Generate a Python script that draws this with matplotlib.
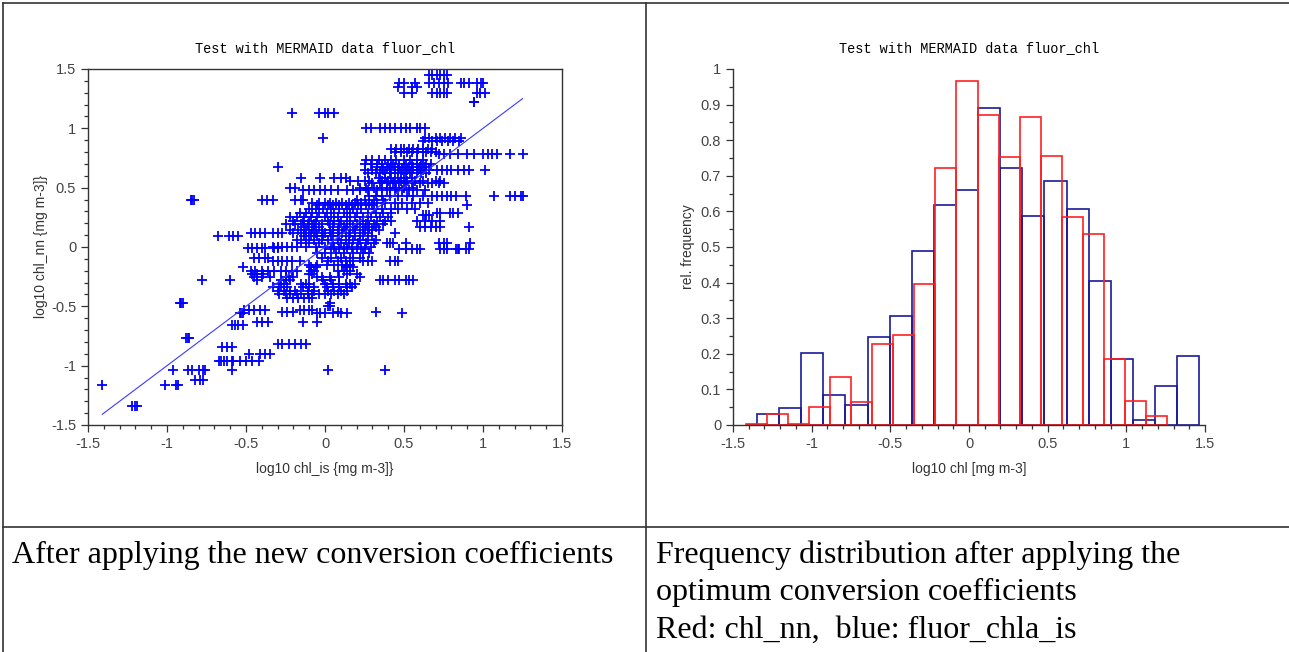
import numpy as np
import matplotlib
matplotlib.use("Agg")
from matplotlib import pyplot as plt
from matplotlib.lines import Line2D
from matplotlib.ticker import MultipleLocator, FormatStrFormatter

plt.rcParams['axes.unicode_minus'] = False

# scatter: rows of chl_nn value -> chl_is values
scatter_rows = [
    (1.45, [0.66, 0.68, 0.71, 0.73, 0.75, 0.77]),
    (1.38, [0.47, 0.50, 0.57, 0.66, 0.69, 0.72, 0.75, 0.78, 0.86, 0.88, 0.91, 0.96, 0.99, 1.00]),
    (1.35, [0.46, 0.55, 0.58]),
    (1.30, [0.50, 0.55, 0.68, 0.71, 0.73, 0.75, 0.77, 0.96, 0.98, 1.01]),
    (1.22, [0.94, 0.945]),
    (1.13, [-0.21, -0.04, 0.00, 0.02, 0.06]),
    (1.00, [0.26, 0.29, 0.35, 0.38, 0.41, 0.44, 0.48, 0.51, 0.54, 0.58, 0.60, 0.63]),
    (0.92, [-0.01, 0.63, 0.66, 0.70, 0.73, 0.76, 0.79, 0.82, 0.86]),
    (0.89, [0.62, 0.68, 0.71, 0.74, 0.78, 0.81, 0.85]),
    (0.83, [0.42, 0.45, 0.48, 0.50, 0.53, 0.56, 0.59, 0.62, 0.65, 0.68]),
    (0.80, [0.44, 0.48, 0.52, 0.55, 0.58, 0.62, 0.64, 0.67, 0.70]),
    (0.78, [0.72, 0.75, 0.79, 0.84, 0.90, 0.94, 1.00, 1.03, 1.06, 1.09, 1.17, 1.25]),
    (0.73, [0.26, 0.30, 0.34, 0.38, 0.42, 0.45, 0.50, 0.54, 0.58, 0.62]),
    (0.70, [0.25, 0.29, 0.33, 0.36, 0.40, 0.43, 0.47, 0.51, 0.55, 0.58, 0.61, 0.64, 0.67]),
    (0.67, [-0.30, 0.33, 0.36, 0.39, 0.42, 0.44, 0.47, 0.50, 0.53, 0.56, 0.60, 0.63]),
    (0.65, [0.25, 0.30, 0.37, 0.41, 0.46, 0.49, 0.52, 0.55, 0.59, 0.62, 0.66, 0.71, 0.74,
            0.77, 0.80, 0.84, 0.88, 0.91, 1.01]),
    (0.62, [0.27, 0.32, 0.35, 0.38, 0.41, 0.44, 0.48, 0.51, 0.54, 0.58, 0.61, 0.64]),
    (0.58, [-0.15, -0.03, 0.06, 0.10, 0.13, 0.34, 0.38, 0.42, 0.46, 0.50, 0.55]),
    (0.56, [0.16, 0.21, 0.25, 0.28, 0.36, 0.40, 0.44, 0.48, 0.52, 0.57, 0.62, 0.70, 0.73]),
    (0.54, [0.30, 0.35, 0.39, 0.43, 0.47, 0.51, 0.55, 0.60, 0.65, 0.68, 0.72, 0.75]),
    (0.50, [-0.22, -0.19, 0.22, 0.26, 0.31, 0.36, 0.41, 0.45, 0.50, 0.56]),
    (0.48, [-0.14, -0.10, -0.07, -0.03, 0.00, 0.04, 0.08, 0.14, 0.18, 0.22, 0.27, 0.33,
            0.39, 0.44, 0.49, 0.53, 0.58, 0.63]),
    (0.43, [0.28, 0.32, 0.36, 0.41, 0.46, 0.52, 0.56, 0.62, 0.68, 0.71, 0.74, 0.77, 0.80,
            0.83, 0.89, 1.07, 1.17, 1.20, 1.24, 1.25]),
    (0.40, [-0.85, -0.84, -0.83, -0.40, -0.37, -0.33, -0.19, -0.15, -0.14, 0.20, 0.25, 0.31, 0.37]),
    (0.37, [-0.08, -0.04, 0.00, 0.03, 0.07, 0.11, 0.15, 0.19, 0.23, 0.28, 0.33, 0.38, 0.44,
            0.49, 0.55, 0.60, 0.65]),
    (0.35, [-0.05, 0.02, 0.05, 0.09, 0.13, 0.17, 0.21, 0.26, 0.30, 0.90]),
    (0.32, [-0.10, -0.06, -0.01, 0.04, 0.09, 0.14, 0.18, 0.23, 0.31, 0.36, 0.42, 0.46, 0.52, 0.57]),
    (0.29, [-0.16, -0.12, -0.08, -0.04, 0.01, 0.06, 0.12, 0.16, 0.20, 0.27, 0.32, 0.37, 0.42,
            0.71, 0.73, 0.79, 0.81, 0.84]),
    (0.27, [0.62, 0.64, 0.66]),
    (0.25, [-0.22, -0.18, -0.13, -0.09, -0.05, 0.00, 0.04, 0.08, 0.14, 0.19, 0.24, 0.29, 0.35, 0.40]),
    (0.22, [-0.20, -0.14, -0.10, -0.06, 0.02, 0.06, 0.10, 0.16, 0.22, 0.27, 0.33, 0.38, 0.42,
            0.58, 0.63, 0.68, 0.73]),
    (0.19, [-0.25, -0.19, -0.15, -0.11, -0.07, -0.02, 0.03, 0.09, 0.14, 0.20, 0.26, 0.31, 0.37]),
    (0.17, [-0.13, -0.08, -0.04, 0.05, 0.12, 0.18, 0.24, 0.28, 0.32, 0.60, 0.63, 0.67, 0.70,
            0.73, 0.91]),
    (0.14, [-0.22, -0.17, -0.12, -0.07, -0.02, 0.03, 0.08, 0.13, 0.19, 0.25, 0.30, 0.34]),
    (0.12, [-0.47, -0.44, -0.41, -0.38, -0.33, -0.30, -0.27, -0.20, -0.15, -0.10, -0.06, 0.00,
            0.05, 0.11, 0.16, 0.22, 0.27, 0.44]),
    (0.09, [-0.68, -0.61, -0.58, -0.55, -0.13, -0.09, -0.05, -0.01, 0.04, 0.09, 0.15, 0.19,
            0.24, 0.30]),
    (0.06, [-0.18, -0.12, -0.07, -0.02, 0.02, 0.08, 0.13, 0.18, 0.22, 0.27, 0.32]),
    (0.03, [-0.15, -0.10, -0.04, 0.05, 0.10, 0.15, 0.21, 0.26, 0.31, 0.39, 0.41, 0.43, 0.51,
            0.72, 0.75, 0.77, 0.92]),
    (0.00, [-0.33, -0.30, -0.27, -0.24, -0.21, -0.18, -0.12, -0.06, 0.00, 0.06, 0.12, 0.17,
            0.23, 0.29]),
    (-0.01, [-0.49, -0.46, -0.43, -0.40, -0.38, -0.32, -0.30]),
    (-0.02, [0.04, 0.09, 0.14, 0.20, 0.25, 0.47, 0.51, 0.55, 0.58, 0.60, 0.73, 0.75, 0.77,
             0.83, 0.84, 0.85, 0.89, 0.91]),
    (-0.05, [-0.05, 0.00, 0.07, 0.12, 0.18, 0.24, 0.28]),
    (-0.09, [-0.45, -0.42, -0.38, -0.36, -0.02, 0.04, 0.10, 0.16, 0.22]),
    (-0.12, [-0.33, -0.30, -0.27, -0.24, -0.21, -0.16, 0.02, 0.08, 0.13, 0.18, 0.24, 0.27,
             0.30, 0.41, 0.44, 0.46]),
    (-0.15, [-0.10, -0.05, 0.01, 0.06, 0.11, 0.14, 0.16]),
    (-0.17, [-0.52, -0.09, -0.06, 0.13, 0.18]),
    (-0.20, [-0.47, -0.44, -0.40, -0.36, -0.32, -0.28, -0.25, -0.21, -0.18, -0.09, -0.07,
             0.08, 0.12, 0.16]),
    (-0.23, [-0.46, -0.43, -0.39, -0.10, -0.08, 0.14, 0.20]),
    (-0.25, [-0.45, -0.40, -0.35, -0.25, -0.23, -0.20, -0.05, -0.02, 0.03, 0.09, 0.22]),
    (-0.28, [-0.78, -0.60, -0.43, -0.28, -0.25, -0.22, -0.01, 0.04, 0.35, 0.37, 0.40, 0.44,
             0.47, 0.51, 0.53, 0.56]),
    (-0.31, [-0.29, -0.26, -0.15, -0.12, -0.10, 0.00, 0.05, 0.09, 0.13, 0.16, 0.19]),
    (-0.34, [-0.33, -0.28, -0.24, -0.14, -0.10, -0.07, 0.01, 0.05, 0.09, 0.14, 0.17]),
    (-0.37, [-0.30, -0.26, -0.22, -0.19, -0.11, -0.07, 0.02, 0.06, 0.10, 0.14]),
    (-0.40, [-0.29, -0.25, -0.22, -0.18, -0.15, -0.11, -0.08, -0.04, 0.00, 0.04, 0.08, 0.12]),
    (-0.43, [-0.24, -0.20, -0.17, -0.13, -0.10, -0.08]),
    (-0.47, [-0.92, -0.91, -0.90, 0.03]),
    (-0.50, [0.02, 0.03]),
    (-0.53, [-0.51, -0.48, -0.45, -0.41, -0.38, -0.16, -0.13, -0.10, -0.08]),
    (-0.55, [-0.27, -0.24, -0.20, 0.08, 0.32]),
    (-0.56, [-0.54, -0.53, -0.52, -0.05, -0.03, 0.00, 0.05, 0.10, 0.14, 0.49]),
    (-0.63, [-0.43, -0.40, -0.36, -0.14, -0.05]),
    (-0.66, [-0.59, -0.57, -0.55, -0.52]),
    (-0.77, [-0.88, -0.87, -0.86]),
    (-0.82, [-0.30, -0.27, -0.23, -0.19, -0.15, -0.12]),
    (-0.84, [-0.65, -0.62, -0.59]),
    (-0.90, [-0.48, -0.41, -0.38, -0.35]),
    (-0.96, [-0.67, -0.66, -0.64, -0.62, -0.59, -0.58, -0.54, -0.50, -0.46, -0.42]),
    (-1.04, [-0.96, -0.87, -0.84, -0.80, -0.77, -0.76, -0.59, 0.02, 0.38]),
    (-1.12, [-0.82, -0.79, -0.77]),
    (-1.16, [-1.41, -1.01, -0.94, -0.93]),
    (-1.34, [-1.22, -1.20, -1.19]),
]

# histograms (relative frequency per bin)
blue_range = (-1.347, 1.463)
blue_freq = [0.030, 0.047, 0.203, 0.084, 0.056, 0.247, 0.305, 0.490, 0.617, 0.661,
             0.890, 0.722, 0.586, 0.684, 0.606, 0.404, 0.185, 0.014, 0.110, 0.195]
red_range = (-1.420, 1.261)
red_freq = [0.003, 0.030, 0.003, 0.050, 0.134, 0.065, 0.227, 0.253, 0.396, 0.722,
            0.965, 0.871, 0.754, 0.864, 0.757, 0.583, 0.537, 0.185, 0.067, 0.025]

title = "Test with MERMAID data fluor_chl"
caption_left = "After applying the new conversion coefficients"
caption_right = ["Frequency distribution after applying the",
                 "optimum conversion coefficients",
                 "Red: chl_nn,  blue: fluor_chla_is"]

chl_is = np.array([x for y, xs in scatter_rows for x in xs])
chl_nn = np.array([y for y, xs in scatter_rows for x in xs])

W, H = 1289, 652
fig = plt.figure(figsize=(W / 100, H / 100), dpi=100)

def fx(px):
    return px / W

def fy(py):
    return 1 - py / H

axcol = '#333333'
tickcol = '#444444'

def style(ax):
    ax.tick_params(which='both', direction='out', colors=axcol, labelcolor=tickcol,
                   labelsize=10.5, width=0.9)
    ax.tick_params(which='major', length=5)
    ax.tick_params(which='minor', length=3)
    for lab in ax.get_xticklabels() + ax.get_yticklabels():
        lab.set_fontfamily('Liberation Sans')
    ax.xaxis.set_major_formatter(FormatStrFormatter('%g'))
    ax.yaxis.set_major_formatter(FormatStrFormatter('%g'))
    for s in ax.spines.values():
        s.set_color(axcol)
        s.set_linewidth(1.0)

# left: scatter
ax1 = fig.add_axes([fx(88), fy(425), fx(562) - fx(88), fy(69) - fy(425)])
ax1.plot(chl_is, chl_nn, '+', color='#0000ff', ms=6.5, mew=1.3)
lo, hi = chl_is.min(), chl_is.max()
ax1.plot([lo, hi], [lo, hi], '-', color='#3a3aff', lw=0.8)
ax1.set_xlim(-1.5, 1.5)
ax1.set_ylim(-1.5, 1.5)
ax1.xaxis.set_major_locator(MultipleLocator(0.5))
ax1.xaxis.set_minor_locator(MultipleLocator(0.1))
ax1.yaxis.set_major_locator(MultipleLocator(0.5))
ax1.yaxis.set_minor_locator(MultipleLocator(0.1))
style(ax1)
ax1.set_xlabel("log10 chl_is {mg m-3]}", fontsize=10, color=axcol, family='Liberation Sans', labelpad=8)
ax1.set_ylabel("log10 chl_nn {mg m-3]}", fontsize=10, color=axcol, family='Liberation Sans', labelpad=2)
ax1.set_title(title, fontsize=9.8, family='Liberation Mono', pad=12)

# right: histograms
ax2 = fig.add_axes([fx(733), fy(425), fx(1205) - fx(733), fy(69) - fy(425)])
for freq, rng, col in [(blue_freq, blue_range, '#1a1a9a'), (red_freq, red_range, '#ff2020')]:
    edges = np.linspace(rng[0], rng[1], len(freq) + 1)
    ax2.bar(edges[:-1], freq, width=np.diff(edges), align='edge', fill=False,
            edgecolor=col, linewidth=1.2)
ax2.set_xlim(-1.5, 1.5)
ax2.set_ylim(0, 1)
ax2.xaxis.set_major_locator(MultipleLocator(0.5))
ax2.xaxis.set_minor_locator(MultipleLocator(0.1))
ax2.yaxis.set_major_locator(MultipleLocator(0.1))
ax2.yaxis.set_minor_locator(MultipleLocator(0.05))
ax2.spines['top'].set_visible(False)
ax2.spines['right'].set_visible(False)
style(ax2)
ax2.set_xlabel("log10 chl [mg m-3]", fontsize=10, color=axcol, family='Liberation Sans', labelpad=8)
ax2.set_ylabel("rel. frequency", fontsize=10, color=axcol, family='Liberation Sans', labelpad=4)
ax2.set_title(title, fontsize=9.8, family='Liberation Mono', pad=12)

# table grid lines
tl = dict(color='#333333', lw=1.2, transform=fig.transFigure)
fig.add_artist(Line2D([fx(3), fx(W)], [fy(3), fy(3)], **tl))
fig.add_artist(Line2D([fx(3), fx(3)], [fy(3), fy(H)], **tl))
fig.add_artist(Line2D([fx(646), fx(646)], [fy(3), fy(H)], **tl))
fig.add_artist(Line2D([fx(3), fx(W)], [fy(527), fy(527)], **tl))

# captions
fig.text(fx(12), fy(555), caption_left, family='Liberation Serif', fontsize=23, va='center')
for i, line in enumerate(caption_right):
    fig.text(fx(656), fy(555 + 37.5 * i), line, family='Liberation Serif', fontsize=23, va='center')

fig.savefig('out.png', dpi=100)
